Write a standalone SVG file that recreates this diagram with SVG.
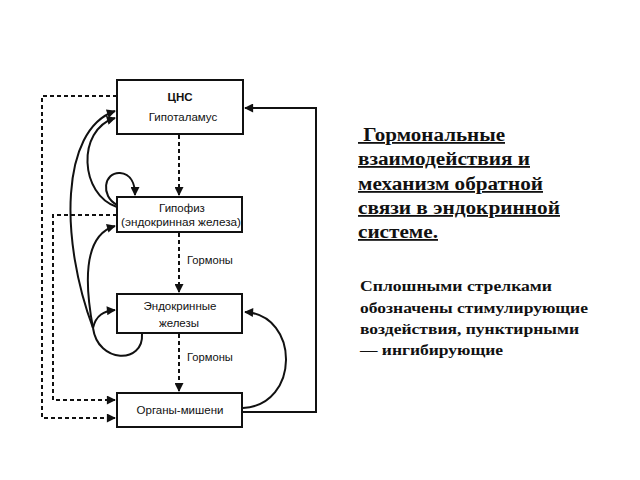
<svg xmlns="http://www.w3.org/2000/svg" width="640" height="480" viewBox="0 0 640 480">
<style>
.box{fill:#fff;stroke:#111;stroke-width:2}
.lbl{font-family:"Liberation Sans",Arial,sans-serif;font-size:11.5px;fill:#111;text-anchor:middle}
.gl{font-family:"Liberation Sans",Arial,sans-serif;font-size:11.2px;fill:#111}
.s{fill:none;stroke:#111;stroke-width:2}
.d{fill:none;stroke:#111;stroke-width:2;stroke-dasharray:4 3}
.title{font-family:"Liberation Serif","Times New Roman",serif;font-weight:bold;font-size:18px;fill:#111;text-decoration:underline}
.note{font-family:"Liberation Serif","Times New Roman",serif;font-weight:bold;font-size:15.5px;fill:#111}
</style>
<defs>
<marker id="ahs" viewBox="0 0 10 10" refX="9" refY="5" markerWidth="10" markerHeight="9" markerUnits="userSpaceOnUse" orient="auto">
<path d="M0,0 L10,5 L0,10 Z" fill="#111"/>
</marker>
</defs>
<rect width="640" height="480" fill="#fff"/>
<g id="connectors">
<path class="d" d="M117,96 H42 V418 H115" marker-end="url(#ahs)"/>
<path class="d" d="M117,215 H53 V400 H115" marker-end="url(#ahs)"/>
<path class="d" d="M179,135 V195" marker-end="url(#ahs)"/>
<path class="d" d="M179,233 V292" marker-end="url(#ahs)"/>
<path class="d" d="M179,334 V391" marker-end="url(#ahs)"/>
<path class="s" d="M243,412 H316 V108 H245" marker-end="url(#ahs)"/>
<path class="s" d="M243,408 C300,405 300,315 245,312" marker-end="url(#ahs)"/>
<path class="s" d="M142,334 C144,364 98,364 93,328"/>
<path class="s" d="M93,328 C96,315 104,311 115,310" marker-end="url(#ahs)"/>
<path class="s" d="M93,328 C84,280 84,235 115,226" marker-end="url(#ahs)"/>
<path class="s" d="M93,328 C60,240 60,130 115,111" marker-end="url(#ahs)"/>
<path class="s" d="M117,207 C80,195 76,130 115,118" marker-end="url(#ahs)"/>
<path class="s" d="M117,205 C100,196 104,172 120,173 C131,174 135,184 135,195" marker-end="url(#ahs)"/>
</g>
<g id="cns">
<rect class="box" x="117" y="80" width="126" height="54"/>
<text class="lbl" x="180" y="101" font-weight="bold" font-size="12">ЦНС</text>
<text class="lbl" x="183" y="121">Гипоталамус</text>
</g>
<g id="hypophysis">
<rect class="box" x="117" y="197" width="125" height="35"/>
<text class="lbl" x="182" y="212">Гипофиз</text>
<text class="lbl" x="181" y="226" textLength="120" lengthAdjust="spacingAndGlyphs">(эндокринная железа)</text>
</g>
<g id="endocrine">
<rect class="box" x="117" y="294" width="125" height="39"/>
<text class="lbl" x="180" y="310">Эндокринные</text>
<text class="lbl" x="179" y="327">железы</text>
</g>
<g id="targets">
<rect class="box" x="117" y="393" width="125" height="34"/>
<text class="lbl" x="180" y="414">Органы-мишени</text>
</g>
<g id="labels">
<text class="gl" x="187" y="264">Гормоны</text>
<text class="gl" x="187" y="361">Гормоны</text>
</g>
<g id="text">
<text class="title" xml:space="preserve" x="358" y="141" textLength="147" lengthAdjust="spacingAndGlyphs"> Гормональные</text>
<text class="title" x="358" y="165" textLength="172" lengthAdjust="spacingAndGlyphs">взаимодействия и</text>
<text class="title" x="358" y="190" textLength="185" lengthAdjust="spacingAndGlyphs">механизм обратной</text>
<text class="title" x="358" y="214" textLength="202" lengthAdjust="spacingAndGlyphs">связи в эндокринной</text>
<text class="title" x="358" y="238" textLength="80" lengthAdjust="spacingAndGlyphs">системе.</text>
<text class="note" x="360" y="291" textLength="192" lengthAdjust="spacingAndGlyphs">Сплошными стрелками</text>
<text class="note" x="360" y="313" textLength="228" lengthAdjust="spacingAndGlyphs">обозначены стимулирующие</text>
<text class="note" x="360" y="334" textLength="219" lengthAdjust="spacingAndGlyphs">воздействия, пунктирными</text>
<text class="note" x="360" y="355" textLength="143" lengthAdjust="spacingAndGlyphs">— ингибирующие</text>
</g>
</svg>
